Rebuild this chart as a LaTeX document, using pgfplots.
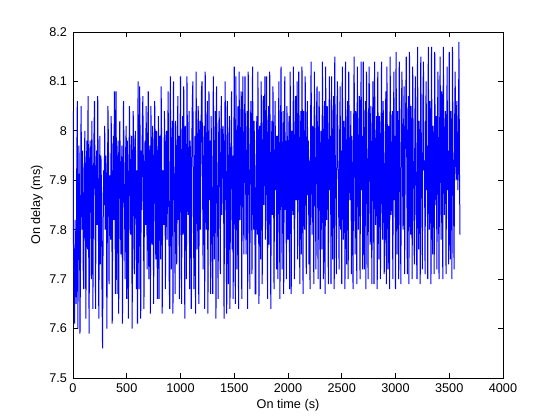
\documentclass[border=0pt]{standalone}
\usepackage{fontspec}
\setmainfont{Liberation Sans}
\usepackage{pgfplots}
\pgfplotsset{compat=1.18}
\begin{document}
\begin{tikzpicture}
\path[use as bounding box] (-54.75pt,-31.5pt) rectangle (365.25pt,283.5pt);
\begin{axis}[
  at={(0,0)}, anchor=south west,
  scale only axis, width=322.5pt, height=259.5pt,
  xmin=0, xmax=4000, ymin=7.5, ymax=8.2,
  xtick={0,500,...,4000},
  ytick={7.5,7.6,7.7,7.8,7.9,8.0,8.1,8.2},
  scaled ticks=false,
  /pgf/number format/1000 sep={},
  /pgf/number format/assume math mode=true,
  tick align=inside,
  major tick length=3.75pt,
  tick style={black, line width=0.6pt},
  axis line style={black, line width=0.6pt},
  font=\fontsize{9.5pt}{11pt}\selectfont,
  tick label style={font=\fontsize{9.5pt}{11pt}\selectfont},
  xlabel={On time (s)}, ylabel={On delay (ms)},
  xlabel style={yshift=2pt},
  ylabel style={yshift=-2pt},
  xticklabel style={yshift=-1pt},
  yticklabel style={xshift=-1pt},
]
\addplot[color={rgb,1:red,0;green,0;blue,1}, line width=0.75pt, mark=none] coordinates {
(0,8.04)(5,7.75)(10,7.66)(15,7.61)(20,7.82)(25,7.70)(30,7.65)(35,7.93)(40,8.06)(45,7.60)(50,7.78)(55,7.97)(60,7.88)(65,7.59)(70,7.74)(75,8.05)(80,7.90)(85,7.80)(90,7.96)(95,7.72)
(100,7.68)(105,7.89)(110,8.00)(115,7.84)(120,7.62)(125,7.93)(130,7.98)(135,7.76)(140,8.07)(145,7.81)(150,7.59)(155,7.94)(160,7.98)(165,7.86)(170,7.70)(175,8.02)(180,7.91)(185,7.64)(190,7.85)(195,7.99)
(200,8.06)(205,7.87)(210,7.64)(215,7.92)(220,7.96)(225,7.81)(230,8.07)(235,7.90)(240,7.62)(245,7.83)(250,7.99)(255,7.73)(260,7.95)(265,7.88)(270,7.67)(275,7.56)(280,7.79)(285,7.92)(290,7.85)(295,8.01)
(300,7.80)(305,7.95)(310,7.91)(315,7.60)(320,7.84)(325,8.05)(330,7.97)(335,7.69)(340,7.91)(345,7.86)(350,7.78)(355,8.03)(360,7.94)(365,7.61)(370,7.87)(375,7.99)(380,7.82)(385,8.08)(390,7.90)(395,7.67)
(400,8.08)(405,7.88)(410,7.67)(415,7.94)(420,7.98)(425,7.63)(430,7.89)(435,8.02)(440,7.93)(445,7.75)(450,7.90)(455,7.97)(460,7.61)(465,7.84)(470,8.06)(475,7.92)(480,7.84)(485,7.70)(490,7.96)(495,8.01)
(500,7.66)(505,7.98)(510,7.91)(515,7.62)(520,7.87)(525,8.05)(530,7.95)(535,7.79)(540,7.88)(545,7.99)(550,7.60)(555,7.83)(560,8.04)(565,7.94)(570,7.71)(575,7.95)(580,8.00)(585,7.86)(590,7.68)(595,7.92)
(600,7.61)(605,8.10)(610,7.93)(615,7.68)(620,8.09)(625,7.97)(630,7.62)(635,7.96)(640,7.84)(645,8.02)(650,8.07)(655,7.90)(660,7.64)(665,7.90)(670,7.98)(675,7.81)(680,8.05)(685,7.93)(690,7.72)(695,7.99)
(700,8.08)(705,7.70)(710,7.93)(715,7.97)(720,7.63)(725,8.05)(730,7.89)(735,7.77)(740,8.01)(745,7.94)(750,7.65)(755,7.89)(760,8.06)(765,7.96)(770,7.74)(775,8.00)(780,7.91)(785,7.66)(790,7.95)(795,8.03)
(800,7.66)(805,7.99)(810,7.92)(815,7.74)(820,8.09)(825,7.96)(830,7.63)(835,7.92)(840,7.85)(845,7.81)(850,8.04)(855,7.97)(860,7.68)(865,7.96)(870,8.00)(875,7.78)(880,7.93)(885,8.08)(890,7.87)(895,7.70)
(900,7.64)(905,8.11)(910,7.94)(915,7.72)(920,7.98)(925,8.02)(930,7.63)(935,8.10)(940,7.91)(945,7.85)(950,7.67)(955,8.02)(960,7.96)(965,7.73)(970,7.90)(975,8.07)(980,7.82)(985,7.99)(990,7.66)(995,7.95)
(1000,8.11)(1005,7.88)(1010,7.65)(1015,7.94)(1020,8.03)(1025,7.79)(1030,8.09)(1035,7.93)(1040,7.62)(1045,8.01)(1050,7.89)(1055,7.70)(1060,8.11)(1065,7.97)(1070,7.83)(1075,7.92)(1080,8.04)(1085,7.68)(1090,7.98)(1095,7.90)
(1100,7.64)(1105,7.97)(1110,8.06)(1115,8.10)(1120,7.86)(1125,7.68)(1130,7.91)(1135,7.99)(1140,7.63)(1145,8.12)(1150,7.94)(1155,7.76)(1160,7.99)(1165,8.05)(1170,7.65)(1175,7.93)(1180,8.02)(1185,7.80)(1190,7.96)(1195,8.08)
(1200,8.10)(1205,7.92)(1210,7.72)(1215,7.93)(1220,8.01)(1225,7.64)(1230,8.12)(1235,7.95)(1240,7.80)(1245,7.97)(1250,8.06)(1255,7.63)(1260,7.90)(1265,8.08)(1270,7.86)(1275,7.98)(1280,7.67)(1285,8.03)(1290,7.91)(1295,7.74)
(1300,7.67)(1305,8.11)(1310,7.96)(1315,7.74)(1320,7.95)(1325,8.04)(1330,7.62)(1335,8.09)(1340,7.92)(1345,7.84)(1350,7.66)(1355,7.99)(1360,8.04)(1365,7.89)(1370,7.71)(1375,7.97)(1380,8.07)(1385,7.83)(1390,7.94)(1395,8.01)
(1400,7.98)(1405,7.62)(1410,7.90)(1415,8.10)(1420,7.95)(1425,7.78)(1430,7.63)(1435,8.06)(1440,7.94)(1445,7.69)(1450,7.92)(1455,8.03)(1460,7.64)(1465,7.88)(1470,7.98)(1475,8.08)(1480,7.76)(1485,7.95)(1490,7.66)(1495,7.91)
(1500,8.13)(1505,7.90)(1510,7.65)(1515,8.11)(1520,7.96)(1525,7.72)(1530,7.97)(1535,8.05)(1540,7.64)(1545,8.12)(1550,7.93)(1555,7.82)(1560,8.00)(1565,8.08)(1570,7.66)(1575,7.94)(1580,8.11)(1585,7.87)(1590,7.75)(1595,7.99)
(1600,8.11)(1605,7.95)(1610,7.75)(1615,7.93)(1620,8.04)(1625,7.64)(1630,8.12)(1635,7.97)(1640,7.86)(1645,7.68)(1650,7.99)(1655,8.06)(1660,7.91)(1665,7.71)(1670,8.13)(1675,7.96)(1680,7.80)(1685,8.02)(1690,7.92)(1695,7.67)
(1700,7.67)(1705,7.95)(1710,8.03)(1715,7.79)(1720,8.12)(1725,7.94)(1730,7.65)(1735,8.01)(1740,7.90)(1745,7.74)(1750,8.10)(1755,7.98)(1760,7.69)(1765,7.90)(1770,8.07)(1775,7.85)(1780,7.97)(1785,8.11)(1790,7.78)(1795,7.93)
(1800,8.11)(1805,7.92)(1810,7.66)(1815,7.98)(1820,8.05)(1825,7.77)(1830,8.12)(1835,7.95)(1840,7.64)(1845,7.93)(1850,8.02)(1855,7.83)(1860,8.09)(1865,7.96)(1870,7.68)(1875,7.91)(1880,8.06)(1885,7.88)(1890,7.99)(1895,7.72)
(1900,7.99)(1905,7.70)(1910,7.94)(1915,8.10)(1920,7.87)(1925,7.66)(1930,7.97)(1935,8.13)(1940,7.92)(1945,7.72)(1950,7.96)(1955,8.04)(1960,7.67)(1965,7.93)(1970,8.11)(1975,7.84)(1980,7.98)(1985,7.70)(1990,8.05)(1995,7.95)
(2000,7.78)(2005,7.95)(2010,8.03)(2015,7.68)(2020,8.12)(2025,7.96)(2030,7.67)(2035,8.00)(2040,7.92)(2045,7.83)(2050,8.13)(2055,7.97)(2060,7.70)(2065,7.92)(2070,8.07)(2075,7.86)(2080,7.99)(2085,8.10)(2090,7.74)(2095,7.94)
(2100,8.12)(2105,7.93)(2110,7.69)(2115,7.97)(2120,8.04)(2125,7.75)(2130,8.13)(2135,7.96)(2140,7.67)(2145,8.04)(2150,7.91)(2155,7.80)(2160,8.11)(2165,7.98)(2170,7.71)(2175,7.95)(2180,8.06)(2185,7.87)(2190,7.98)(2195,7.73)
(2200,7.94)(2205,7.68)(2210,8.01)(2215,8.14)(2220,7.89)(2225,7.79)(2230,8.01)(2235,7.95)(2240,7.69)(2245,8.12)(2250,7.97)(2255,7.87)(2260,7.72)(2265,8.03)(2270,8.09)(2275,7.92)(2280,7.70)(2285,7.99)(2290,8.08)(2295,7.85)
(2300,7.68)(2305,8.00)(2310,7.95)(2315,7.76)(2320,8.14)(2325,7.97)(2330,7.70)(2335,7.96)(2340,8.06)(2345,7.67)(2350,8.13)(2355,7.94)(2360,7.82)(2365,8.05)(2370,7.98)(2375,7.69)(2380,7.93)(2385,8.11)(2390,7.88)(2395,7.99)
(2400,7.69)(2405,8.11)(2410,7.96)(2415,7.74)(2420,7.99)(2425,8.07)(2430,7.68)(2435,8.15)(2440,7.93)(2445,7.85)(2450,7.71)(2455,8.02)(2460,8.10)(2465,7.94)(2470,7.90)(2475,7.72)(2480,7.97)(2485,8.09)(2490,7.80)(2495,7.96)
(2500,7.69)(2505,8.13)(2510,7.97)(2515,7.78)(2520,8.02)(2525,7.95)(2530,7.68)(2535,8.14)(2540,7.92)(2545,7.73)(2550,7.96)(2555,8.06)(2560,7.70)(2565,8.12)(2570,7.98)(2575,7.86)(2580,7.93)(2585,8.04)(2590,7.71)(2595,7.99)
(2600,7.86)(2605,7.68)(2610,7.98)(2615,8.15)(2620,7.94)(2625,7.75)(2630,8.04)(2635,7.97)(2640,7.69)(2645,8.13)(2650,7.95)(2655,7.80)(2660,7.97)(2665,8.07)(2670,7.70)(2675,7.92)(2680,8.14)(2685,7.88)(2690,7.99)(2695,7.72)
(2700,8.14)(2705,7.93)(2710,7.72)(2715,7.99)(2720,8.06)(2725,7.68)(2730,8.12)(2735,7.96)(2740,7.84)(2745,7.70)(2750,8.02)(2755,8.13)(2760,7.91)(2765,7.77)(2770,8.05)(2775,7.97)(2780,7.69)(2785,7.94)(2790,8.10)(2795,7.87)
(2800,7.69)(2805,8.14)(2810,7.96)(2815,7.81)(2820,7.95)(2825,8.03)(2830,7.68)(2835,8.12)(2840,7.93)(2845,7.74)(2850,8.03)(2855,7.98)(2860,7.70)(2865,7.94)(2870,8.14)(2875,7.89)(2880,7.78)(2885,8.06)(2890,7.97)(2895,7.71)
(2900,7.78)(2905,7.97)(2910,8.08)(2915,7.69)(2920,8.13)(2925,7.95)(2930,7.72)(2935,8.01)(2940,7.92)(2945,7.68)(2950,8.15)(2955,7.98)(2960,7.83)(2965,7.92)(2970,8.04)(2975,7.70)(2980,7.96)(2985,8.12)(2990,7.86)(2995,7.99)
(3000,7.68)(3005,8.16)(3010,7.97)(3015,7.75)(3020,8.04)(3025,7.94)(3030,7.70)(3035,8.14)(3040,7.96)(3045,7.86)(3050,7.69)(3055,8.03)(3060,8.12)(3065,7.93)(3070,7.80)(3075,7.99)(3080,8.09)(3085,7.71)(3090,7.95)(3095,8.05)
(3100,8.15)(3105,7.93)(3110,7.71)(3115,7.98)(3120,8.07)(3125,7.69)(3130,8.16)(3135,7.95)(3140,7.79)(3145,8.05)(3150,7.97)(3155,7.70)(3160,8.13)(3165,7.94)(3170,7.88)(3175,7.73)(3180,8.02)(3185,8.11)(3190,7.91)(3195,7.76)
(3200,7.70)(3205,8.17)(3210,7.96)(3215,7.76)(3220,8.02)(3225,7.93)(3230,7.69)(3235,8.15)(3240,7.98)(3245,7.84)(3250,7.72)(3255,8.06)(3260,8.14)(3265,7.92)(3270,7.94)(3275,7.71)(3280,7.99)(3285,8.10)(3290,7.88)(3295,7.97)
(3300,7.70)(3305,8.17)(3310,7.95)(3315,7.80)(3320,8.06)(3325,7.98)(3330,7.69)(3335,8.17)(3340,7.93)(3345,7.75)(3350,8.01)(3355,7.96)(3360,7.71)(3365,8.16)(3370,7.94)(3375,7.85)(3380,8.03)(3385,7.72)(3390,7.99)(3395,8.12)
(3400,7.87)(3405,7.70)(3410,7.97)(3415,8.15)(3420,7.92)(3425,7.78)(3430,8.08)(3435,7.95)(3440,7.70)(3445,8.17)(3450,7.98)(3455,7.83)(3460,7.97)(3465,8.04)(3470,7.71)(3475,7.93)(3480,8.13)(3485,7.88)(3490,7.96)(3495,7.73)
(3500,8.16)(3505,7.94)(3510,7.74)(3515,8.04)(3520,7.98)(3525,7.70)(3530,8.17)(3535,7.95)(3540,7.86)(3545,7.72)(3550,8.01)(3555,8.12)(3560,7.93)(3565,7.90)(3570,8.06)(3575,7.99)(3580,7.88)(3585,7.95)(3590,8.18)(3595,7.92)
(3600,7.79)
};
\end{axis}
\end{tikzpicture}
\end{document}
